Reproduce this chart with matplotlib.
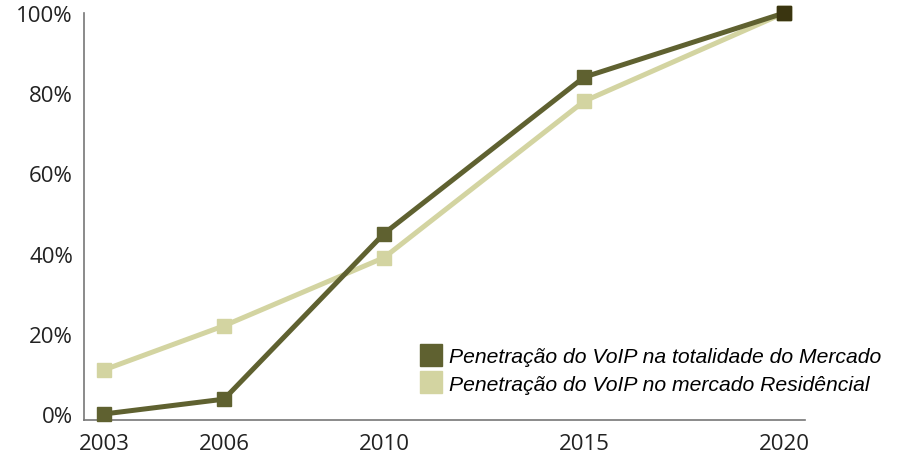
import matplotlib
matplotlib.use("Agg")
import matplotlib.pyplot as plt
from matplotlib.lines import Line2D

years = [2003, 2006, 2010, 2015, 2020]
total_market = [0, 3.7, 45, 84, 100]
residential = [11, 22, 39, 78, 100]
yticks = [0, 20, 40, 60, 80, 100]
ytick_labels = ["0%", "20%", "40%", "60%", "80%", "100%"]
labels = ["Penetração do VoIP na totalidade do Mercado",
          "Penetração do VoIP no mercado Residêncial"]

dark = "#5f6130"
light = "#d3d4a1"

fig = plt.figure(figsize=(8.97, 4.6), dpi=100)
ax = fig.add_axes([84/897, 1-421/460, (805-84)/897, (421-14)/460])

ax.plot(years, residential, color=light, lw=3.6, marker="s", ms=10.5,
        solid_joinstyle="miter", clip_on=False, zorder=2)
ax.plot(years, total_market, color=dark, lw=3.6, marker="s", ms=10.5,
        solid_joinstyle="miter", clip_on=False, zorder=3)
ax.plot(years[-1:], total_market[-1:], color="#3a3510", marker="s", ms=10.5,
        lw=0, clip_on=False, zorder=4)

ax.set_xlim(2002.5, 2020.52)
ax.set_ylim(-1.5, 100)
ax.set_xticks(years)
ax.set_xticklabels([str(y) for y in years])
ax.set_yticks(yticks)
ax.set_yticklabels(ytick_labels)
for sp in ["top", "right"]:
    ax.spines[sp].set_visible(False)
for sp in ["left", "bottom"]:
    ax.spines[sp].set_color("#777777")
    ax.spines[sp].set_linewidth(1.2)
ax.tick_params(length=0, labelsize=16, colors="#222222")
ax.tick_params(axis="y", pad=8)
ax.tick_params(axis="x", pad=9)
for t in ax.get_xticklabels() + ax.get_yticklabels():
    t.set_fontfamily("Open Sans")

handles = [Line2D([], [], color=dark, marker="s", ms=16, lw=0),
           Line2D([], [], color=light, marker="s", ms=16, lw=0)]
leg = fig.legend(handles, labels, loc="upper left",
                 bbox_to_anchor=(400/897, 1-329/460), frameon=False,
                 handletextpad=0.3, labelspacing=0.42, handlelength=1.1,
                 prop={"family": "Liberation Sans", "style": "italic", "size": 15.2})

fig.savefig("out.png", dpi=100)
